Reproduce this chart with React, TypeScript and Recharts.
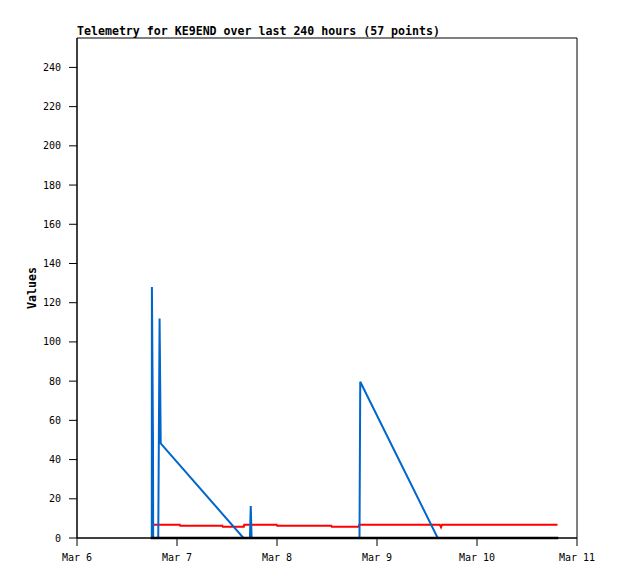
import { LineChart, Line, XAxis, YAxis, ReferenceArea, Label } from 'recharts';

// hours since Mar 6 00:00
const blueHours = [17.7, 17.95, 17.98, 18.24, 18.28, 19.5, 19.82, 20.09, 39.95, 41.5, 41.7, 41.9, 67.8, 67.98, 86.57, 115.4];
const blueValues = [0, 0, 128, 48.6, 0, 0, 112, 48.3, 0, 0, 16.3, 0, 0, 79.7, 0, 0];

const redHours = [18.4, 24.67, 24.79, 34.87, 34.99, 40.03, 40.15, 47.93, 48.05, 61.03, 61.15, 67.63, 67.75, 87.07, 87.36, 87.6, 115.32];
const redValues = [6.8, 6.8, 6.2, 6.2, 5.7, 5.7, 6.8, 6.8, 6.2, 6.2, 5.7, 5.7, 6.8, 6.8, 5.5, 6.8, 6.8];

const blackHours = [17.7, 115.5];
const blackValues = [0, 0];

const xTicks = [0, 24, 48, 72, 96, 120];
const xTickLabels = ['Mar 6', 'Mar 7', 'Mar 8', 'Mar 9', 'Mar 10', 'Mar 11'];
const yTicks = [0, 20, 40, 60, 80, 100, 120, 140, 160, 180, 200, 220, 240];

const blueData = blueHours.map((h, i) => ({ h, v: blueValues[i] }));
const redData = redHours.map((h, i) => ({ h, v: redValues[i] }));
const blackData = blackHours.map((h, i) => ({ h, v: blackValues[i] }));

const FONT = '"DejaVu Sans Mono", monospace';

export default function App() {
  return (
    <div style={{ position: 'absolute', left: 0, top: 0, width: 618, height: 579, background: '#fff' }}>
      <div
        style={{
          position: 'absolute',
          left: 77,
          top: 24,
          fontFamily: FONT,
          fontWeight: 'bold',
          fontSize: 11.6,
          whiteSpace: 'nowrap',
          color: '#000',
        }}
      >
        Telemetry for KE9END over last 240 hours (57 points)
      </div>
      <LineChart width={618} height={579} margin={{ top: 38, right: 41, left: 17, bottom: 11 }}>
        <XAxis
          dataKey="h"
          type="number"
          domain={[0, 120]}
          ticks={xTicks}
          tickFormatter={(v: number) => xTickLabels[xTicks.indexOf(v)]}
          height={30}
          tickSize={8}
          tickMargin={8}
          stroke="#000"
          tick={{ fontSize: 10, fill: '#000', fontFamily: FONT }}
          interval={0}
        />
        <YAxis
          type="number"
          domain={[0, 255]}
          ticks={yTicks}
          width={60}
          tickSize={8}
          tickMargin={8}
          stroke="#000"
          tick={{ fontSize: 10, fill: '#000', fontFamily: FONT }}
          interval={0}
        >
          <Label
            value="Values"
            angle={-90}
            position="center"
            dx={-15}
            style={{ fontFamily: FONT, fontWeight: 'bold', fontSize: 11.6, fill: '#000' }}
          />
        </YAxis>
        <ReferenceArea x1={0} x2={120} y1={0} y2={255} fill="none" stroke="#000" strokeWidth={1} ifOverflow="visible" />
        <Line data={redData} dataKey="v" type="linear" stroke="#ff0000" strokeWidth={2} dot={false} isAnimationActive={false} />
        <Line data={blueData} dataKey="v" type="linear" stroke="#0066cc" strokeWidth={2} dot={false} isAnimationActive={false} />
        <Line data={blackData} dataKey="v" type="linear" stroke="#000" strokeWidth={2.5} dot={false} isAnimationActive={false} />
      </LineChart>
    </div>
  );
}
